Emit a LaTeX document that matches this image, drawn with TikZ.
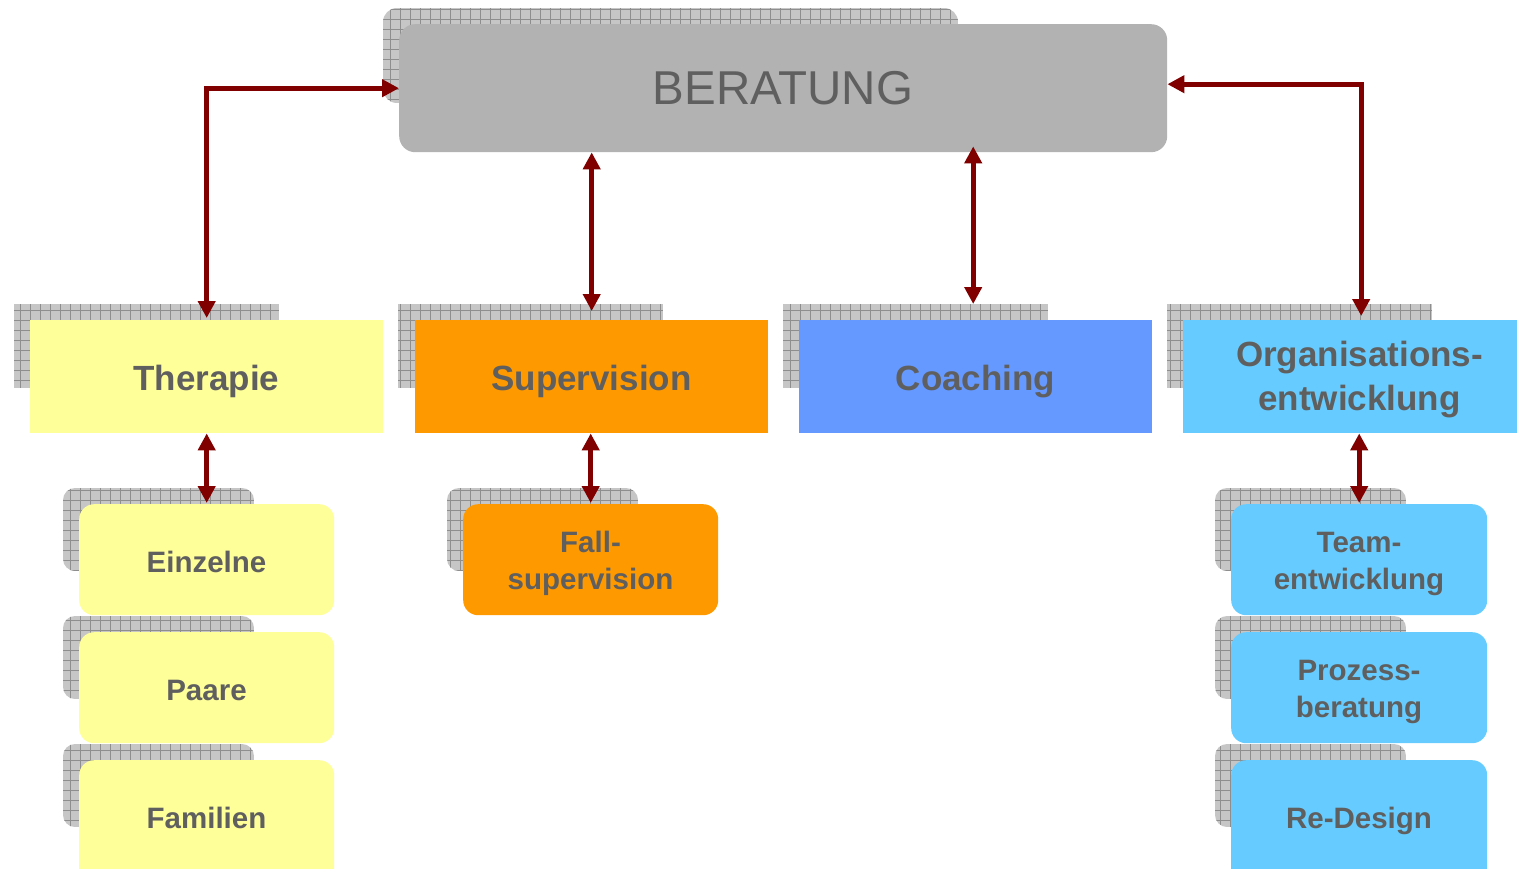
\documentclass[tikz,border=0pt]{standalone}
\usepackage{fontspec}
\setmainfont{Liberation Sans}
\usetikzlibrary{arrows.meta}
\definecolor{txt}{HTML}{5F5F5F}
\definecolor{berfill}{HTML}{B2B2B2}
\definecolor{yel}{HTML}{FFFF99}
\definecolor{ora}{HTML}{FF9900}
\definecolor{blu}{HTML}{6699FF}
\definecolor{cya}{HTML}{66CCFF}
\definecolor{shfill}{HTML}{C6C6C6}
\definecolor{shline}{HTML}{8E8E8E}
\definecolor{arr}{HTML}{800000}
\newcommand\gridshadow[5]{%
  \begin{scope}
    \clip[rounded corners=#5] (#1,#2) rectangle (#3,#4);
    \fill[shfill] (#1,#2) rectangle (#3,#4);
    \draw[shline, line width=1pt] (#1,#2) grid[step=10pt] (#3,#4);
  \end{scope}}
\tikzset{
  box/.style={inner sep=0pt, anchor=north west},
  lbl/.style={inner sep=0pt, text=txt, align=center, anchor=base},
  midfont/.style={font=\fontsize{35}{44}\selectfont\bfseries},
  smallfont/.style={font=\fontsize{29.5}{37}\selectfont\bfseries},
  conn/.style={draw=arr, line width=5pt, {Triangle[length=17pt,width=17pt]}-{Triangle[length=17pt,width=17pt]}},
}
\begin{document}
\begin{tikzpicture}[x=1pt,y=-1pt]
\useasboundingbox (0,0) rectangle (1517,869);
\clip (0,0) rectangle (1517,869);
% shadows
\gridshadow{383}{8}{958}{103}{14pt}
\gridshadow{14}{304}{279}{388}{0pt}
\gridshadow{398}{304}{663}{388}{0pt}
\gridshadow{783}{304}{1048}{388}{0pt}
\gridshadow{1167}{304}{1432}{388}{0pt}
\gridshadow{63}{488}{254}{571}{12pt}
\gridshadow{63}{616}{254}{699}{12pt}
\gridshadow{63}{744}{254}{827}{12pt}
\gridshadow{447}{488}{638}{571}{12pt}
\gridshadow{1215}{488}{1406}{571}{12pt}
\gridshadow{1215}{616}{1406}{699}{12pt}
\gridshadow{1215}{744}{1406}{827}{12pt}
% main boxes
\node[box, fill=berfill, rounded corners=16pt, minimum width=768pt, minimum height=128pt] (ber) at (399,24) {};
\node[lbl, font=\fontsize{47.5}{56}\selectfont] (bert) at (783,105) {BERATUNG};
\begin{scope}[every node/.append style={box, minimum width=353pt, minimum height=113pt}]
\node[fill=yel] (ther) at (30,320) {};
\node[fill=ora] (sup) at (415,320) {};
\node[fill=blu] (coach) at (799,320) {};
\node[fill=cya] (org) at (1183,320) {};
\end{scope}
\node[lbl, midfont] (thert) at (206.5,390) {Therapie};
\node[lbl, midfont] (supt) at (591.5,390) {Supervision};
\node[lbl, midfont] (coacht) at (975.5,390) {Coaching};
\node[lbl, midfont] (orgt) at (1359.5,410) {Organisations-\\entwicklung};
\begin{scope}[every node/.append style={box, minimum width=255pt, minimum height=111pt, rounded corners=15pt}]
\node[fill=yel] (einz) at (79,504) {};
\node[fill=yel] (paare) at (79,632) {};
\node[fill=yel, minimum height=130pt] (fam) at (79,760) {};
\node[fill=ora] (fall) at (463,504) {};
\node[fill=cya, minimum width=256pt] (team) at (1231,504) {};
\node[fill=cya, minimum width=256pt] (proz) at (1231,632) {};
\node[fill=cya, minimum width=256pt, minimum height=130pt] (rede) at (1231,760) {};
\end{scope}
\node[lbl, smallfont] (einzt) at (206.5,572) {Einzelne};
\node[lbl, smallfont] (paaret) at (206.5,700) {Paare};
\node[lbl, smallfont] (famt) at (206.5,828) {Familien};
\node[lbl, smallfont] (fallt) at (590.5,589) {Fall-\\supervision};
\node[lbl, smallfont] (teamt) at (1359,589) {Team-\\entwicklung};
\node[lbl, smallfont] (prozt) at (1359,717) {Prozess-\\beratung};
\node[lbl, smallfont] (redet) at (1359,828) {Re-Design};
% connectors
\draw[conn] ([yshift=2pt]ther.north) |- (ber.west);
\draw[conn] ([xshift=1.5pt,yshift=4pt]org.north) |- ([yshift=4pt]ber.east);
\draw[conn] ([yshift=9pt]sup.north) -- (sup.north |- ber.south);
\draw[conn] ([xshift=-2.5pt,yshift=16pt]coach.north) -- ([xshift=-2.5pt,yshift=6pt]coach.north |- ber.south);
\draw[conn] (ther.south) -- ([yshift=1pt]einz.north);
\draw[conn] ([xshift=-1pt]sup.south) -- ([yshift=1pt]fall.north);
\draw[conn] (team.north |- org.south) -- ([yshift=1pt]team.north);
\end{tikzpicture}
\end{document}
